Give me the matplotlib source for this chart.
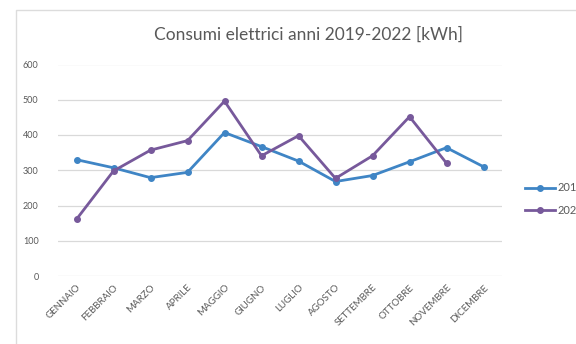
import matplotlib.pyplot as plt
from matplotlib.patches import Rectangle

mesi = ["GENNAIO", "FEBBRAIO", "MARZO", "APRILE", "MAGGIO", "GIUGNO",
        "LUGLIO", "AGOSTO", "SETTEMBRE", "OTTOBRE", "NOVEMBRE", "DICEMBRE"]
consumi_2019 = [330, 307, 279, 294, 407, 367, 326, 268, 285, 324, 364, 310]
consumi_2022 = [161, 298, 357, 384, 496, 341, 398, 277, 341, 452, 320]
anni = ["2019", "2022"]

blu = "#3f85c5"
viola = "#77599b"
grigio = "#595959"

plt.rcParams['font.family'] = ['Lato', 'DejaVu Sans']

fig = plt.figure(figsize=(5.76, 3.44), dpi=100)
fig.patch.set_facecolor("white")
# cornice del grafico (esce dal bordo destro e inferiore)
fig.patches.append(Rectangle((16 / 576, -0.2), 1.0, 1.2 - 10 / 344,
                             transform=fig.transFigure, fill=False,
                             edgecolor="#dcdcdc", linewidth=1.0))

ax = fig.add_axes([58 / 576, 1 - 276 / 344, 444 / 576, 211.5 / 344])
x = range(len(mesi))
ax.plot(x, consumi_2019, color=blu, lw=2.0, marker="o", ms=4, label=anni[0])
ax.plot(range(len(consumi_2022)), consumi_2022, color=viola, lw=2.0,
        marker="o", ms=4, label=anni[1])

ax.set_xlim(-0.5, len(mesi) - 0.5)
ax.set_ylim(0, 600)
ax.set_yticks(range(0, 601, 100))
ax.set_xticks(list(x))
ax.set_xticklabels(mesi, rotation=45, ha="right", rotation_mode="anchor")
ax.tick_params(axis="both", length=0, colors=grigio)
ax.tick_params(axis="y", pad=14, labelsize=6.5)
ax.tick_params(axis="x", pad=5, labelsize=7)
ax.grid(axis="y", color="#d9d9d9", lw=0.9)
ax.set_axisbelow(True)
for s in ax.spines.values():
    s.set_visible(False)

fig.text(0.535, 1 - 35 / 344, "Consumi elettrici anni 2019-2022 [kWh]",
         ha="center", va="center", fontsize=12.5, color=grigio)

fig.legend(loc="center left", bbox_to_anchor=(525 / 576, 1 - 199 / 344),
           frameon=False, fontsize=8, handlelength=2.7, handletextpad=0.2,
           labelspacing=1.0, labelcolor=grigio, borderaxespad=0,
           borderpad=0)

fig.savefig("out.png", dpi=100)
